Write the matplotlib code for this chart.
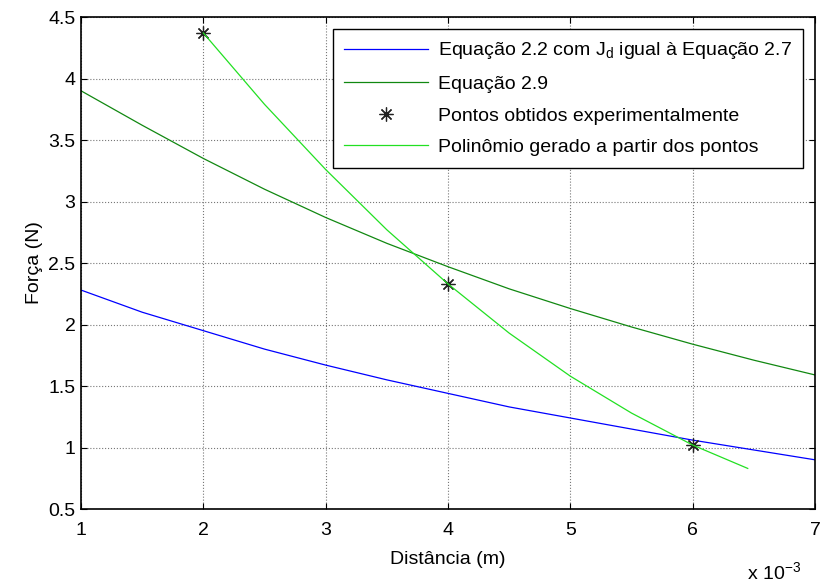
import matplotlib.pyplot as plt

plt.rcParams['font.family'] = ['Liberation Sans', 'DejaVu Sans']

# distancia em unidades de 10^-3 m
dist = [1, 1.5, 2, 2.5, 3, 3.5, 4, 4.5, 5, 5.5, 6, 6.5, 7]
forca_eq22 = [2.28, 2.10, 1.95, 1.80, 1.67, 1.55, 1.44, 1.33, 1.24, 1.15, 1.06, 0.98, 0.90]
forca_eq29 = [3.90, 3.62, 3.35, 3.10, 2.87, 2.66, 2.47, 2.29, 2.13, 1.98, 1.84, 1.71, 1.59]

# pontos experimentais
dist_exp = [2, 4, 6]
forca_exp = [4.37, 2.33, 1.02]

# polinomio gerado a partir dos pontos
dist_pol = [2, 2.5, 3, 3.5, 4, 4.5, 5, 5.5, 6, 6.45]
forca_pol = [4.37, 3.79, 3.26, 2.77, 2.33, 1.93, 1.58, 1.28, 1.02, 0.83]

fs = 14

fig = plt.figure(figsize=(8.21, 5.85), dpi=100)
ax = fig.add_axes([0.0987, 0.1299, 0.894, 0.841])

ax.plot(dist, forca_eq22, color='#0000ff', linewidth=0.9,
        label='Equação 2.2 com J$_{\\mathregular{d}}$ igual à Equação 2.7')
ax.plot(dist, forca_eq29, color='#118811', linewidth=0.9, label='Equação 2.9')
ax.plot(dist_exp, forca_exp, linestyle='none', marker=(8, 2, 0), markersize=10,
        markeredgewidth=0.9, color='#222222', label='Pontos obtidos experimentalmente')
ax.plot(dist_pol, forca_pol, color='#22e022', linewidth=0.9,
        label='Polinômio gerado a partir dos pontos')

ax.set_xlim(1, 7)
ax.set_ylim(0.5, 4.5)
ax.set_xticks(range(1, 8))
ax.set_yticks([0.5, 1, 1.5, 2, 2.5, 3, 3.5, 4, 4.5])
ax.set_yticklabels(['0.5', '1', '1.5', '2', '2.5', '3', '3.5', '4', '4.5'])
ax.tick_params(direction='in', top=True, right=True, labelsize=fs, length=4, pad=4)
ax.tick_params(axis='x', pad=9)
ax.grid(True, linestyle=':', color='#777777', linewidth=0.8)
for s in ax.spines.values():
    s.set_linewidth(1.2)

ax.set_xlabel('Distância (m)', fontsize=fs, labelpad=9)
ax.set_ylabel('Força (N)', fontsize=fs, labelpad=4)
fig.text(0.91, 0.008, 'x 10$^{\\mathregular{-3}}$', fontsize=fs)

leg = ax.legend(loc='upper right', fontsize=fs, fancybox=False, edgecolor='black',
                framealpha=1, borderaxespad=0.6, handlelength=4.3, handletextpad=0.5,
                labelspacing=0.72, borderpad=0.6)
leg.get_frame().set_linewidth(1.0)

fig.savefig('out.png', dpi=100)
